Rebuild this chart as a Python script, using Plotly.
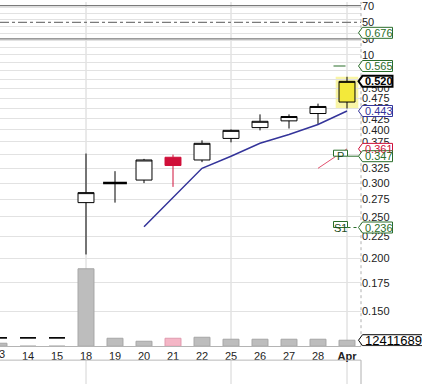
import math
import plotly.graph_objects as go

# ---------------- data ----------------
days = ["13", "14", "15", "18", "19", "20", "21", "22", "25", "26", "27", "28", "Apr"]
opens = [0.130, 0.130, 0.130, 0.270, 0.300, 0.305, 0.345, 0.340, 0.382, 0.405, 0.420, 0.437, 0.465]
highs = [0.130, 0.130, 0.130, 0.352, 0.320, 0.342, 0.350, 0.378, 0.401, 0.435, 0.435, 0.461, 0.533]
lows = [0.130, 0.130, 0.130, 0.204, 0.270, 0.300, 0.294, 0.336, 0.374, 0.399, 0.403, 0.412, 0.449]
closes = [0.130, 0.130, 0.130, 0.285, 0.300, 0.340, 0.330, 0.372, 0.399, 0.419, 0.430, 0.454, 0.520]
volumes = [6.2e6, 0, 0, 161e6, 16.5e6, 10.3e6, 16.5e6, 18.6e6, 14.5e6, 14.5e6, 14.5e6, 14.5e6, 12411689]
ma_line = [None, None, None, None, None, 0.237, 0.277, 0.325, 0.347, 0.372, 0.390, 0.412, 0.443]
red_line = [None] * 11 + [0.325, 0.361]
mondays = ["18", "25", "Apr"]
price_ticks = [0.150, 0.175, 0.200, 0.225, 0.250, 0.275, 0.300, 0.325, 0.350, 0.375, 0.400,
               0.425, 0.450, 0.475, 0.500, 0.525, 0.550, 0.575, 0.600, 0.625, 0.650, 0.675,
               0.700, 0.725, 0.750, 0.775]
price_tick_max_label = 0.500
rsi_ticks = [10, 30, 50, 70]
rsi_solid_levels = [70, 30]
rsi_dash_levels = [50]
pivot_p = 0.347
pivot_s1 = 0.236
pivot_r1 = 0.565
pivot_r2 = 0.676
last_volume = 12411689

# ---------------- geometry / style ----------------
W, H = 422, 384
PLOT_W = 361
PRICE_BOTTOM = 346
LOWER_TOP = 360
PX_PER_DAY = 29.0
x_r0 = 1.0 / PX_PER_DAY
x_r1 = x_r0 + PLOT_W / PX_PER_DAY
y_range_log = [-0.9057, -0.0977]
rsi_range = [-339.9, 74.43]
vol_top = PRICE_BOTTOM * last_volume / 6.0
FONT = "Liberation Sans, Arial, sans-serif"
GREEN = "#2b6e2b"
NAVY = "#34349a"
RED = "#d0103a"

n = len(days)
xs = list(range(n))
last = n - 1

fig = go.Figure()

# volume bars
vol_colors = ["#f4b6c6" if (i > 0 and closes[i] < closes[i - 1] and closes[i] < opens[i]) else "#bdbdbd" for i in xs]
vol_lines = ["#e09aae" if c == "#f4b6c6" else "#a6a6a6" for c in vol_colors]
fig.add_trace(go.Bar(x=xs, y=volumes, yaxis="y3", width=0.55,
                     marker=dict(color=vol_colors, line=dict(color=vol_lines, width=1)),
                     hoverinfo="skip"))

shapes = []
# highlight behind last candle
shapes.append(dict(type="rect", xref="x", yref="y", x0=last - 0.39, x1=last + 0.39,
                   y0=lows[last], y1=highs[last], fillcolor="#f9f5a6", line=dict(width=0),
                   layer="below"))


def group(mask):
    idx = [i for i in xs if mask(i)]
    return dict(x=idx, open=[opens[i] for i in idx], high=[highs[i] for i in idx],
                low=[lows[i] for i in idx], close=[closes[i] for i in idx])


def candle(g, fill, line):
    return go.Candlestick(**g, increasing=dict(fillcolor=fill, line=dict(color=line, width=1)),
                          decreasing=dict(fillcolor=fill, line=dict(color=line, width=1)),
                          whiskerwidth=0, hoverinfo="skip", showlegend=False)


fig.add_trace(candle(group(lambda i: i != last and closes[i] > opens[i]), "white", "black"))
fig.add_trace(candle(group(lambda i: i != last and closes[i] < opens[i]), RED, RED))
fig.add_trace(candle(group(lambda i: i != last and closes[i] == opens[i]), "white", "black"))
fig.add_trace(candle(group(lambda i: i == last), "#f3e93a", "black"))

# doji bar (thick)
doji = [i for i in xs if closes[i] == opens[i] and highs[i] > lows[i]]
fig.add_trace(go.Scatter(x=doji, y=[closes[i] for i in doji], mode="markers",
                         marker=dict(symbol="line-ew", size=17, line=dict(color="black", width=2.5)),
                         hoverinfo="skip", showlegend=False))

# moving average
fig.add_trace(go.Scatter(x=xs, y=ma_line, mode="lines", line=dict(color=NAVY, width=1.5),
                         hoverinfo="skip", showlegend=False))
# red indicator
fig.add_trace(go.Scatter(x=xs, y=red_line, mode="lines", line=dict(color="#e2506e", width=1),
                         hoverinfo="skip", showlegend=False))

# grid lines on Mondays (price panel and lower panel)
for d in mondays:
    i = days.index(d)
    shapes.append(dict(type="line", xref="x", yref="y domain", x0=i, x1=i, y0=0, y1=1,
                       line=dict(color="#d4d4d4", width=1), layer="below"))
    shapes.append(dict(type="line", xref="x2", yref="y2 domain", x0=i, x1=i, y0=0, y1=1,
                       line=dict(color="#d4d4d4", width=1), layer="below"))

# RSI-style reference lines
for lv in rsi_solid_levels:
    shapes.append(dict(type="line", xref="x domain", yref="y4", x0=0, x1=1, y0=lv, y1=lv,
                       line=dict(color="#7a7a7a", width=1.3), layer="below"))
for lv in rsi_dash_levels:
    shapes.append(dict(type="line", xref="x domain", yref="y4", x0=0, x1=1, y0=lv, y1=lv,
                       line=dict(color="#7a7a7a", width=1.3, dash="dashdot"), layer="below"))

# right border (dotted) of price panel; lower panel borders
shapes.append(dict(type="line", xref="x domain", yref="y domain", x0=1, x1=1, y0=0, y1=1,
                   line=dict(color="#b0b0b0", width=1, dash="dot")))
shapes.append(dict(type="line", xref="x2 domain", yref="y2 domain", x0=1, x1=1, y0=0, y1=1,
                   line=dict(color="#b0b0b0", width=1)))
shapes.append(dict(type="line", xref="x2 domain", yref="y2 domain", x0=0, x1=1, y0=1, y1=1,
                   line=dict(color="#b8b8b8", width=1)))

annotations = []
TIP = 358.5


def label_box(value, text, color, yref="y", width=34, bold=False, ann_y=None, size=11):
    shapes.append(dict(type="path", xref="paper", yref=yref, xsizemode="pixel", ysizemode="pixel",
                       xanchor=TIP / W, yanchor=value,
                       path="M0,0 L4,5.5 L%d,5.5 L%d,-5.5 L4,-5.5 Z" % (width, width),
                       line=dict(color=color, width=2 if bold else 1), fillcolor="white",
                       layer="above"))
    annotations.append(dict(x=(TIP + 4.5) / W, y=ann_y if ann_y is not None else value,
                            xref="paper", yref=yref, xanchor="left", yanchor="middle",
                            text="<b>%s</b>" % text if bold else text, showarrow=False,
                            font=dict(size=size, color=color if not bold else "black", family=FONT)))


lg = math.log10
# pivot marker boxes
BOX_X0, BOX_X1 = 333.5, 347.5
for val, txt, dash in [(pivot_p, "P", "solid"), (pivot_s1, "S1", "dot")]:
    shapes.append(dict(type="line", xref="paper", yref="y", x0=BOX_X1 / W, x1=TIP / W, y0=val, y1=val,
                       line=dict(color=GREEN, width=1, dash=dash), layer="above"))
    shapes.append(dict(type="rect", xref="paper", yref="y", ysizemode="pixel", yanchor=val,
                       x0=BOX_X0 / W, x1=BOX_X1 / W, y0=-5, y1=6,
                       fillcolor="white", line=dict(color=GREEN, width=1), layer="above"))
    annotations.append(dict(x=(BOX_X0 + BOX_X1) / 2 / W, y=lg(val), xref="paper", yref="y",
                            xanchor="center", yanchor="middle", text=txt, showarrow=False,
                            font=dict(size=11, color="#1d4d1d", family=FONT)))
# R1 dash
shapes.append(dict(type="line", xref="paper", yref="y", x0=BOX_X0 / W, x1=(BOX_X1 - 2) / W,
                   y0=pivot_r1, y1=pivot_r1, line=dict(color=GREEN, width=1.2), layer="above"))

label_box(pivot_r2, "0.676", GREEN, ann_y=lg(pivot_r2))
label_box(pivot_r1, "0.565", GREEN, ann_y=lg(pivot_r1))
label_box(closes[last], "0.520", "black", width=34, bold=True, ann_y=lg(closes[last]))
label_box(ma_line[last], "0.443", NAVY, ann_y=lg(ma_line[last]))
label_box(red_line[last], "0.361", RED, ann_y=lg(red_line[last]))
label_box(pivot_p, "0.347", GREEN, ann_y=lg(pivot_p))
label_box(pivot_s1, "0.236", GREEN, ann_y=lg(pivot_s1))
label_box(last_volume, str(last_volume), "black", yref="y3", width=80, size=13)

# partially visible first date label
annotations.append(dict(x=((0 - x_r0) / (x_r1 - x_r0)) * (PLOT_W / W), y=1 - PRICE_BOTTOM / H,
                        xref="paper", yref="paper", xanchor="center", yanchor="top", text=days[0],
                        showarrow=False, font=dict(size=11, color="#222", family=FONT)))

price_text = [("%.3f" % v) if v <= price_tick_max_label + 1e-9 else "" for v in price_ticks]
tick_text = [("<b>%s</b>" % d) if d == "Apr" else d for d in days]

x_dom = [0, PLOT_W / W]
fig.update_layout(
    width=W, height=H,
    margin=dict(l=0, r=0, t=0, b=0),
    paper_bgcolor="white", plot_bgcolor="white",
    showlegend=False,
    font=dict(family=FONT, size=11, color="#222"),
    boxgap=0.45, boxgroupgap=0,
    hovermode=False,
    xaxis=dict(domain=x_dom, range=[x_r0, x_r1], type="linear", tickvals=xs, ticktext=tick_text,
               showgrid=False, zeroline=False, showline=True, linecolor="#b4b4b4",
               ticks="", anchor="y",
               rangeslider=dict(visible=False), tickfont=dict(size=11, color="#222")),
    yaxis=dict(domain=[1 - PRICE_BOTTOM / H, 1], type="log", range=y_range_log, side="right",
               tickvals=price_ticks, ticktext=price_text, showgrid=True, gridcolor="#e2e2e2",
               zeroline=False, showline=False, ticks="", ticklabeloverflow="allow",
               anchor="x", tickfont=dict(size=11, color="#222")),
    yaxis3=dict(overlaying="y", range=[0, vol_top], visible=False, anchor="x"),
    yaxis4=dict(overlaying="y", range=rsi_range, side="right", anchor="x", tickvals=rsi_ticks,
                showgrid=False, zeroline=False, ticks="", ticklabeloverflow="allow",
                tickfont=dict(size=11, color="#222")),
    xaxis2=dict(domain=x_dom, range=[x_r0, x_r1], anchor="y2", showticklabels=False,
                showgrid=False, zeroline=False, ticks=""),
    yaxis2=dict(domain=[0, 1 - LOWER_TOP / H], range=[0, 1], anchor="x2", visible=False),
    shapes=shapes,
    annotations=annotations,
)
# dummy trace for lower panel
fig.add_trace(go.Scatter(x=[None], y=[None], xaxis="x2", yaxis="y2", showlegend=False, hoverinfo="skip"))

fig.write_html("out.html", config={"displayModeBar": False},
               post_script="document.body.style.margin='0';document.body.style.overflow='hidden';")
